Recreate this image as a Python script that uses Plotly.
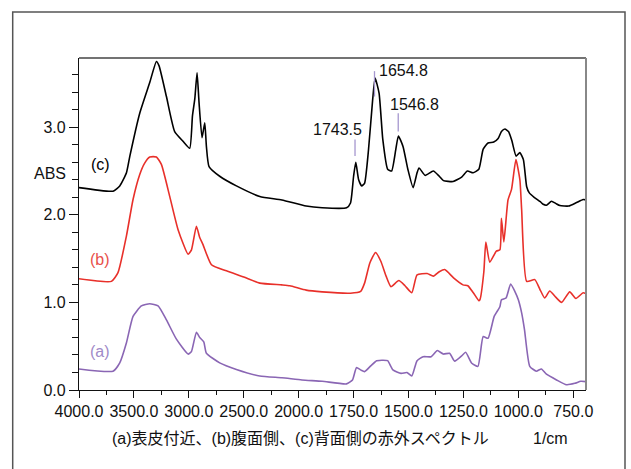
import plotly.graph_objects as go

# ---------------- data (wavenumber in 1/cm, absorbance) ----------------
c_wn = [4000, 3690, 3629, 3568, 3537, 3447, 3356, 3295, 3271, 3204, 3129, 3053, 2992, 2967, 2946,
        2925, 2907, 2880, 2855, 2840, 2816, 2719, 2567, 2354, 2153, 1966, 1893, 1782, 1764, 1750,
        1740, 1727, 1713, 1700, 1682, 1663, 1652, 1634, 1617, 1595, 1577, 1558, 1546, 1525, 1503,
        1479, 1461, 1452, 1424, 1387, 1360, 1341, 1297, 1258, 1232, 1206, 1180, 1160, 1138, 1112,
        1092, 1077, 1061, 1045, 1030, 1010, 993, 977, 962, 950, 928, 900, 887, 872, 849, 830, 811,
        771, 735, 705, 692]
c_abs = [2.31, 2.27, 2.33, 2.48, 2.67, 3.16, 3.51, 3.75, 3.70, 3.35, 2.95, 2.84, 2.76, 3.13, 3.32,
         3.62, 3.28, 2.88, 3.05, 2.78, 2.55, 2.44, 2.33, 2.21, 2.17, 2.10, 2.08, 2.08, 2.135, 2.44,
         2.60, 2.40, 2.33, 2.36, 2.745, 3.32, 3.56, 3.39, 2.86, 2.52, 2.50, 2.745, 2.90, 2.78, 2.52,
         2.31, 2.48, 2.535, 2.45, 2.50, 2.44, 2.39, 2.38, 2.43, 2.50, 2.48, 2.52, 2.75, 2.82, 2.83,
         2.87, 2.95, 2.98, 2.95, 2.85, 2.67, 2.71, 2.63, 2.32, 2.25, 2.20, 2.15, 2.12, 2.11, 2.155,
         2.13, 2.105, 2.10, 2.14, 2.175, 2.17]

b_wn = [4000, 3705, 3645, 3568, 3508, 3447, 3402, 3356, 3295, 3250, 3174, 3098, 3007, 2976, 2931,
        2901, 2871, 2794, 2658, 2500, 2354, 2153, 2080, 1966, 1893, 1764, 1718, 1700, 1676, 1650,
        1626, 1602, 1580, 1544, 1516, 1485, 1461, 1415, 1387, 1360, 1335, 1295, 1252, 1230, 1205,
        1180, 1175, 1157, 1148, 1130, 1100, 1084, 1077, 1066, 1047, 1031, 1011, 993, 985, 962, 925,
        902, 880, 857, 830, 803, 766, 738, 705, 692]
b_abs = [1.27, 1.24, 1.34, 1.76, 2.175, 2.46, 2.59, 2.66, 2.66, 2.575, 2.21, 1.83, 1.55, 1.60, 1.87,
         1.74, 1.66, 1.43, 1.36, 1.29, 1.22, 1.20, 1.19, 1.14, 1.12, 1.105, 1.125, 1.22, 1.45, 1.57,
         1.47, 1.30, 1.18, 1.25, 1.19, 1.11, 1.315, 1.33, 1.30, 1.35, 1.375, 1.28, 1.20, 1.19, 1.11,
         1.02, 1.03, 1.35, 1.69, 1.46, 1.585, 1.60, 1.96, 1.69, 2.17, 2.29, 2.63, 2.40, 2.06, 1.24, 1.26,
         1.15, 1.05, 1.13, 1.06, 1.00, 1.12, 1.045, 1.11, 1.10]

a_wn = [4000, 3690, 3629, 3568, 3508, 3432, 3356, 3280, 3204, 3113, 3007, 2976, 2931, 2901, 2864,
        2840, 2719, 2567, 2354, 2153, 1985, 1893, 1782, 1755, 1737, 1718, 1700, 1672, 1645, 1617,
        1595, 1571, 1534, 1507, 1485, 1461, 1433, 1397, 1369, 1341, 1313, 1290, 1258, 1240, 1212,
        1184, 1160, 1138, 1110, 1084, 1077, 1056, 1035, 1015, 1000, 985, 972, 948, 918, 895, 872,
        826, 781, 743, 716, 692]
a_abs = [0.24, 0.215, 0.31, 0.54, 0.84, 0.96, 0.985, 0.96, 0.80, 0.58, 0.41, 0.44, 0.66, 0.60, 0.55,
         0.42, 0.31, 0.235, 0.16, 0.14, 0.115, 0.10, 0.07, 0.115, 0.255, 0.23, 0.21, 0.275, 0.335, 0.34,
         0.335, 0.23, 0.19, 0.20, 0.16, 0.335, 0.38, 0.38, 0.45, 0.41, 0.42, 0.33, 0.39, 0.43, 0.305,
         0.27, 0.61, 0.59, 0.84, 0.95, 1.03, 1.05, 1.21, 1.12, 1.03, 0.88, 0.69, 0.27, 0.215, 0.24, 0.18,
         0.115, 0.06, 0.076, 0.10, 0.095]

x_ticks = [4000, 3500, 3000, 2500, 2000, 1750, 1500, 1250, 1000, 750]
x_minor = [3750, 3250, 2750, 2250, 1875, 1625, 1375, 1125, 875]
x_end = 692

peaks_wn = [1743.5, 1654.8, 1546.8]
peak_labels = ["1743.5", "1654.8", "1546.8"]
peak_line_lo = [2.67, 3.35, 2.95]
peak_line_hi = [2.86, 3.64, 3.16]
peak_text_y = [2.97, 3.645, 3.26]

series_labels = ["(c)", "(b)", "(a)"]
series_label_y = [2.57, 1.49, 0.44]

caption = "(a)表皮付近、(b)腹面側、(c)背面側の赤外スペクトル"
unit = "1/cm"
y_title = "ABS"

# ---------------- scale: spectrometer axis (500/div above 2000, 250/div below) ----------------
def u(w):
    return (4000 - w) / 500 if w >= 2000 else 4 + (2000 - w) / 250

BLACK = "#000000"
RED = "#e8302a"
PURPLE = "#8a66b4"
FONT = "Liberation Sans, Arial, Noto Sans CJK JP, sans-serif"
FS = 16

fig = go.Figure()
for wn, ab, col in [(a_wn, a_abs, PURPLE), (b_wn, b_abs, RED), (c_wn, c_abs, BLACK)]:
    fig.add_trace(go.Scatter(x=[u(w) for w in wn], y=ab, mode="lines",
                             line=dict(color=col, width=1.6, shape="spline", smoothing=0.5),
                             hoverinfo="skip", showlegend=False))

L, R, T, B = 79, 45, 58, 79
W, H = 631, 469
pw, ph = W - L - R, H - T - B

def px(xp):
    return (xp - L) / pw

def py(yp):
    return (H - B - yp) / ph

fig.update_layout(
    width=W, height=H, margin=dict(l=L, r=R, t=T, b=B, pad=0),
    paper_bgcolor="white", plot_bgcolor="white",
    font=dict(family=FONT, size=FS, color="#111"),
    xaxis=dict(range=[0, u(x_end)], tickmode="array", tickvals=[u(v) for v in x_ticks],
               ticktext=[f"{v:.1f}" for v in x_ticks], ticks="outside", ticklen=7, tickcolor="#111",
               showline=True, linecolor="#111", linewidth=1.2, showgrid=False, zeroline=False,
               minor=dict(tickvals=[u(v) for v in x_minor], ticks="outside", ticklen=4, tickcolor="#111")),
    yaxis=dict(range=[0, 3.79], tickmode="linear", tick0=0, dtick=1, tickformat=".1f",
               ticks="outside", ticklen=9, tickcolor="#111", showline=True, linecolor="#111",
               linewidth=1.2, showgrid=False, zeroline=False,
               minor=dict(dtick=0.2, ticks="outside", ticklen=6, tickcolor="#111")),
)

shapes = []
# top and right frame of the plot area
shapes.append(dict(type="line", xref="paper", yref="paper", x0=0, x1=1, y0=1, y1=1,
                   line=dict(color="#444", width=1.5)))
shapes.append(dict(type="line", xref="paper", yref="paper", x0=1, x1=1, y0=0, y1=1,
                   line=dict(color="#888", width=2)))
# outer frame (open at bottom)
fx0, fx1, fy0, fy1 = px(12.7), px(625), py(12), py(480)
shapes.append(dict(type="path", xref="paper", yref="paper",
                   path=f"M {fx0},{fy1} L {fx0},{fy0} L {fx1},{fy0} L {fx1},{fy1}",
                   line=dict(color="#555", width=1.5)))
# peak marker lines
for w, lo, hi in zip(peaks_wn, peak_line_lo, peak_line_hi):
    shapes.append(dict(type="line", xref="x", yref="y", x0=u(w), x1=u(w), y0=lo, y1=hi,
                       line=dict(color="#a597cf", width=1.3)))
fig.update_layout(shapes=shapes)

ann = []
anchors = ["right", "left", "left"]
shifts = [9, 2, -10]
for w, t, yy, an, sh in zip(peaks_wn, peak_labels, peak_text_y, anchors, shifts):
    ann.append(dict(x=u(w), y=yy, xref="x", yref="y", text=t, showarrow=False,
                    xanchor=an, yanchor="middle", xshift=sh, font=dict(size=FS, color="#111")))
for t, yy, col in zip(series_labels, series_label_y, [BLACK, "#e8504a", "#a08ac8"]):
    ann.append(dict(x=px(100), y=yy, xref="paper", yref="y", text=t, showarrow=False,
                    xanchor="center", yanchor="middle", font=dict(size=FS, color=col)))
ann.append(dict(x=px(50), y=py(173), xref="paper", yref="paper", text=y_title, showarrow=False,
                xanchor="center", yanchor="middle", font=dict(size=FS, color="#111")))
ann.append(dict(x=px(300), y=py(438), xref="paper", yref="paper", text=caption, showarrow=False,
                xanchor="center", yanchor="middle", font=dict(size=FS, color="#111")))
ann.append(dict(x=px(550), y=py(438), xref="paper", yref="paper", text=unit, showarrow=False,
                xanchor="center", yanchor="middle", font=dict(size=FS, color="#111")))
fig.update_layout(annotations=ann)

fig.write_html("out.html")
